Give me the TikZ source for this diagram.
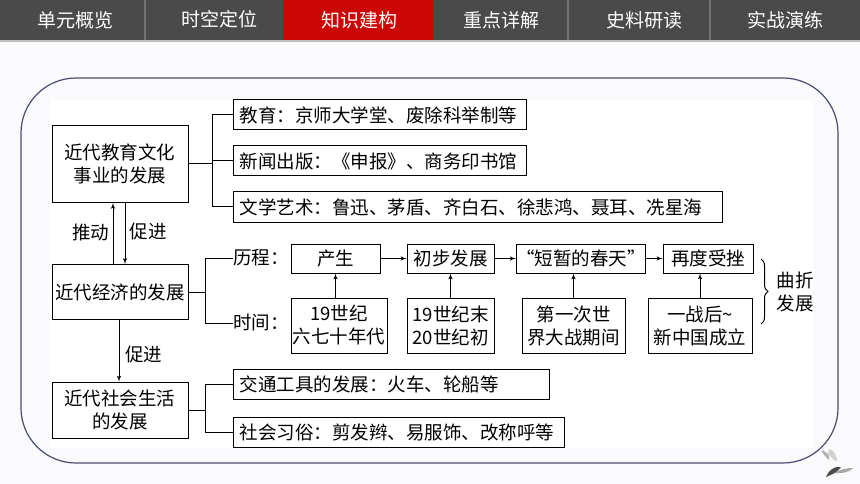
\documentclass[tikz,border=0pt]{standalone}
\usepackage{xcolor}
\usepackage{fontspec}
\setmainfont{Noto Sans CJK SC}
\usetikzlibrary{positioning,shapes,arrows,calc,decorations.pathreplacing}
\definecolor{pagebg}{HTML}{FAFAFC}
\definecolor{tabgray}{HTML}{4A4A4A}
\definecolor{tabred}{HTML}{CC0505}
\definecolor{framecol}{HTML}{474C70}
\tikzstyle{every node}=[font=\fontsize{18.5}{23}\selectfont]
\tikzstyle{topic}=[rectangle, draw=black, line width=1pt, text=black, inner sep=0pt,
  text width=136pt, align=center]
\tikzstyle{leaf}=[rectangle, draw=black, line width=1pt, text=black, inner sep=0pt,
  minimum height=30pt, anchor=west, align=left]
\tikzstyle{stage}=[rectangle, draw=black, line width=1pt, text=black, inner sep=0pt,
  minimum height=29pt, align=center]
\tikzstyle{era}=[rectangle, draw=black, line width=1pt, text=black, inner sep=0pt,
  minimum height=55pt, align=center]
\tikzstyle{tab}=[text=white, font=\fontsize{19}{23}\selectfont]
\tikzstyle{line} = [draw, line width=1pt]
\tikzstyle{arrow} = [draw, line width=1pt, -latex']
\newcommand{\renvoi}[3][pos=0.5]{
\path (#2) -- (#3)coordinate[#1](mm);
\draw[line] (#2) -| (mm) |- (#3);
}

\begin{document}
\begin{tikzpicture}[x=1pt, y=-1pt]
    \useasboundingbox (0,0) rectangle (860,484);
    \fill[pagebg] (0,0) rectangle (860,484);
    % tab bar
    \fill[black!25] (0,40) rectangle (860,42);
    \fill[tabgray] (0,0) rectangle (860,40);
    \fill[tabred] (283,0) rectangle (434,40);
    \foreach \x in {145,568,710} {
      \fill[black!55] (\x-1,0) rectangle (\x+1,40);
    }
    \node[tab] (tab1) at (75.5,20) {单元概览};
    \node[tab] (tab2) at (219.5,19) {时空定位};
    \node[tab] (tab3) at (359,20) {知识建构};
    \node[tab] (tab4) at (501,20) {重点详解};
    \node[tab] (tab5) at (644,20) {史料研读};
    \node[tab] (tab6) at (785,20) {实战演练};
    % frame
    \fill[white] (50,100) rectangle (813,448);
    \draw[framecol, line width=1.2pt, rounded corners=55pt] (21,78) rectangle (838,463);
    % left column
    \node (culture) [topic, minimum height=77pt] at (120,164) {近代教育文化\\事业的发展};
    \node (economy) [topic, minimum height=55pt] at (120,292) {近代经济的发展};
    \node (society) [topic, minimum height=56pt] at (120,410) {近代社会生活\\的发展};
    \draw[arrow] (economy.north -| 113,0) -- (culture.south -| 113,0);
    \draw[arrow] (culture.south -| 125,0) -- (economy.north -| 125,0);
    \draw[arrow] (economy.south -| 119,0) -- (society.north -| 119,0);
    \node (pushlabel) at (90.5,232) {推动};
    \node (promotelabel) at (148,232) {促进};
    \node (promotelower) at (143.5,355) {促进};
    % culture branches
    \node (edu) [leaf, minimum width=293pt, text width=281pt] at (233,115) {教育：京师大学堂、废除科举制等};
    \node (press) [leaf, minimum width=293pt, text width=281pt] at (233,161) {新闻出版：《申报》、商务印书馆};
    \node (arts) [leaf, minimum width=489pt, text width=477pt] at (233,207) {文学艺术：鲁迅、茅盾、齐白石、徐悲鸿、聂耳、冼星海};
    \renvoi[pos=0.53]{culture.east}{edu.west};
    \renvoi[pos=0.53]{culture.east}{arts.west};
    \draw[line] (press.west) -- (mm |- press.west);
    % society branches
    \node (traffic) [leaf, minimum width=316pt, text width=304pt] at (233,384) {交通工具的发展：火车、轮船等};
    \node (custom) [leaf, minimum width=331pt, text width=319pt] at (233,432) {社会习俗：剪发辫、易服饰、改称呼等};
    \renvoi[pos=0.38]{society.east}{traffic.west};
    \renvoi[pos=0.38]{society.east}{custom.west};
    % economy branches
    \node (course) [anchor=west, inner xsep=0pt] at (233,258) {历程：};
    \node (period) [anchor=west, inner xsep=0pt] at (233,323) {时间：};
    \renvoi[pos=0.38]{economy.east}{course.west};
    \renvoi[pos=0.38]{economy.east}{period.west};
    % stages
    \node (birth) [stage, minimum width=89pt] at (335.5,258.5) {产生};
    \node (growth) [stage, minimum width=87pt] at (450.5,258.5) {初步发展};
    \node (spring) [stage, minimum width=120pt] at (581,258.5) {“短暂的春天”};
    \node (setback) [stage, minimum width=90pt] at (708,258.5) {再度受挫};
    \draw[arrow] (birth) -- (growth);
    \draw[arrow] (growth) -- (spring);
    \draw[arrow] (spring) -- (setback);
    \node (birthtime) [era, minimum width=96pt] at (339,325.5) {19世纪\\六七十年代};
    \node (growthtime) [era, minimum width=87pt] at (450.5,325.5) {19世纪末\\20世纪初};
    \node (springtime) [era, minimum width=103pt] at (573.5,326) {第一次世\\界大战期间};
    \node (setbacktime) [era, minimum width=104pt] at (700,326) {一战后\textasciitilde\\新中国成立};
    \draw[arrow] (birthtime.north -| birth.south) -- (birth.south);
    \draw[arrow] (growthtime.north) -- (growth.south);
    \draw[arrow] (springtime.north) -- (springtime.north |- spring.south);
    \draw[arrow] (setbacktime.north) -- (setbacktime.north |- setback.south);
    % brace
    \coordinate (bracetop) at (761,259);
    \coordinate (bracebottom) at (761,324);
    \draw[line, decorate, decoration={brace, amplitude=7pt}] (bracetop) -- (bracebottom);
    \node (twist) [align=center] at (795,291.5) {曲折\\发展};
    % feather mark
    \fill[black!30, rotate around={25:(829,460)}] (829,460) .. controls (825,450) and (825,444) .. (829,451) .. controls (832,455) and (831,458) .. (829,460);
    \fill[black!18, rotate around={35:(836,460)}] (836,462) .. controls (831,452) and (834,444) .. (838,449) .. controls (840,454) and (838,458) .. (836,462);
    \fill[black!35] (835,473) .. controls (840,469) and (848,468) .. (853,468) .. controls (850,472) and (841,474) .. (835,473);
    \fill[black!70] (826,477) .. controls (829,470) and (834,466) .. (841,467) .. controls (838,472) and (833,474) .. (826,477);
\end{tikzpicture}
\end{document}
